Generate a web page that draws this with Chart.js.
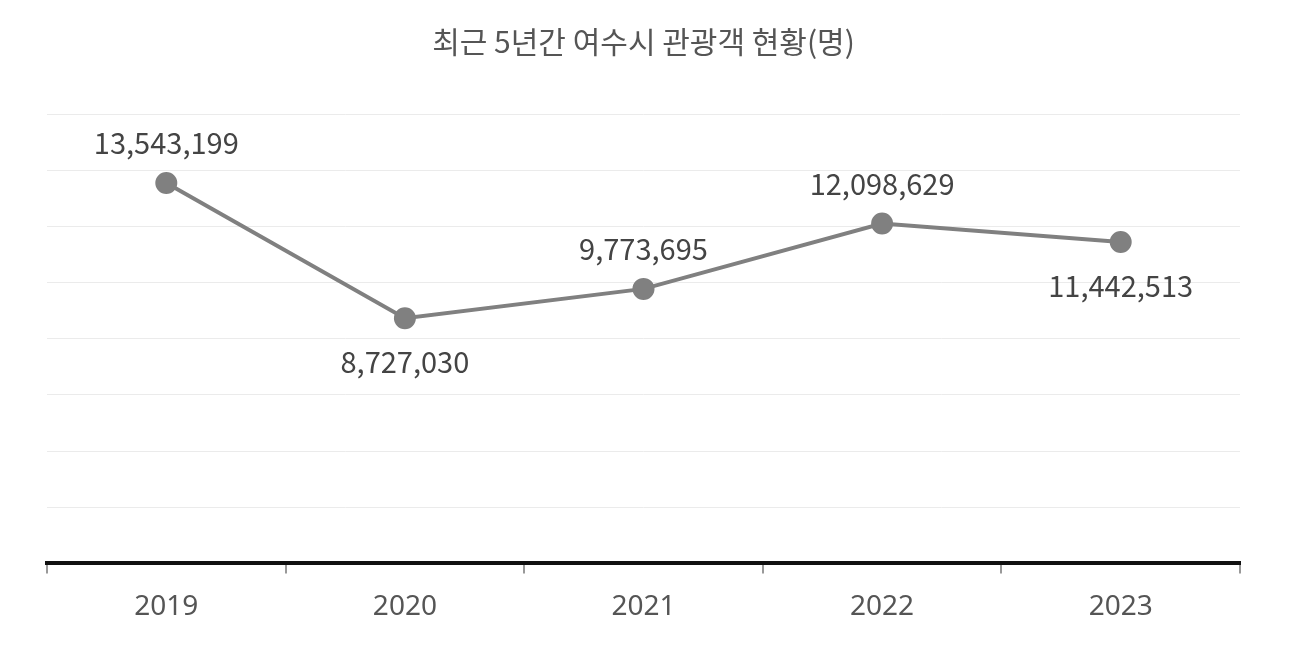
<!DOCTYPE html>
<html>
<head>
<meta charset="utf-8">
<script src="https://cdn.jsdelivr.net/npm/chart.js@4"></script>
<style>
  html, body { margin: 0; background: #fff; }
  #wrap { width: 1295px; height: 645px; }
</style>
</head>
<body>
<div id="wrap"><canvas id="visitorChart"></canvas></div>
<script>
const years = ['2019', '2020', '2021', '2022', '2023'];
const visitors = [13543199, 8727030, 9773695, 12098629, 11442513];
// label placement per point: above or below the marker
const labelSide = ['up', 'down', 'up', 'up', 'down'];

const pointLabels = {
    id: 'pointLabels',
    afterDatasetsDraw(chart) {
        const ctx = chart.ctx;
        const meta = chart.getDatasetMeta(0);
        ctx.save();
        ctx.font = '29px "Noto Sans CJK KR", "Noto Sans", sans-serif';
        ctx.fillStyle = '#444';
        ctx.textAlign = 'center';
        ctx.textBaseline = 'middle';
        meta.data.forEach((pt, i) => {
            const dy = labelSide[i] === 'up' ? -40 : 44;
            ctx.fillText(visitors[i].toLocaleString('en-US'), pt.x, pt.y + dy);
        });
        ctx.restore();
    }
};

new Chart(document.getElementById('visitorChart'), {
    type: 'line',
    data: {
        labels: years,
        datasets: [{
            data: visitors,
            borderColor: '#808080',
            backgroundColor: '#808080',
            borderWidth: 4,
            pointRadius: 9,
            pointHoverRadius: 9,
            tension: 0
        }]
    },
    options: {
        responsive: true,
        maintainAspectRatio: false,
        animation: false,
        layout: { padding: { left: 47, right: 55, top: 0, bottom: 4 } },
        scales: {
            x: {
                offset: true,
                border: { color: '#111', width: 4 },
                grid: { offset: true, drawOnChartArea: false, color: '#999', tickLength: 10, lineWidth: 2 },
                ticks: { color: '#555', padding: 17, font: { size: 28, family: '"Noto Sans", sans-serif' } }
            },
            y: {
                min: 0,
                max: 16000000,
                border: { display: false },
                grid: { color: '#ebebeb', drawTicks: false },
                ticks: { display: false, stepSize: 2000000 }
            }
        },
        plugins: {
            legend: { display: false },
            tooltip: { enabled: false },
            title: {
                display: true,
                text: '최근 5년간 여수시 관광객 현황(명)',
                color: '#555',
                font: { size: 30, weight: 'normal', family: '"Noto Sans CJK KR", sans-serif' },
                padding: { top: 24, bottom: 54 }
            }
        }
    },
    plugins: [pointLabels]
});
</script>
</body>
</html>
